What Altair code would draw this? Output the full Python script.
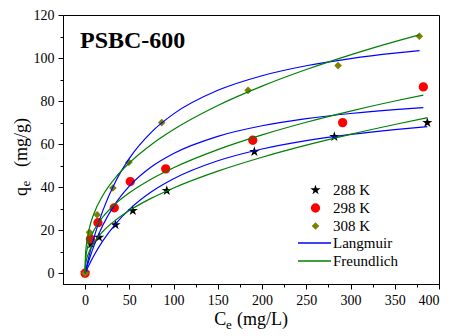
import altair as alt
import pandas as pd

# ---- measured data points ----
series_names = ["288 K", "298 K", "308 K"]
C288 = [0, 6.8, 15.8, 34.3, 53.9, 92.3, 191.3, 281.7, 386.8]
q288 = [0, 13.5, 16.7, 22.5, 29.1, 38.4, 56.5, 63.5, 70.0]
C298 = [0, 6.0, 14.5, 33.0, 51.0, 91.1, 189.5, 291.1, 382.3]
q298 = [0, 15.9, 23.5, 30.4, 42.6, 48.5, 61.8, 70.0, 86.6]
C308 = [0, 4.9, 13.6, 31.4, 49.5, 86.6, 184.2, 285.9, 377.8]
q308 = [0, 19.0, 27.2, 39.6, 51.6, 70.0, 85.0, 96.5, 110.1]

# ---- fitted curves ----
Cfit_base = [0, 0.3, 1, 2, 5, 10, 20, 35, 50, 75, 100, 150, 200, 250, 300, 350]
Cfit_308 = Cfit_base + [378]
Cfit_298 = Cfit_base + [382.3]
Cfit_288 = Cfit_base + [386.8]
L308 = [0, 0.57, 1.89, 3.71, 8.88, 16.53, 29.08, 43.11, 53.41, 65.60, 74.05, 85.00, 91.79, 96.41, 99.75, 102.29, 103.45]
F308 = [0, 7.30, 11.55, 15.04, 21.33, 27.77, 36.16, 44.76, 51.27, 59.84, 66.77, 77.94, 86.95, 94.66, 101.47, 107.61, 110.8]
L298 = [0, 0.44, 1.46, 2.87, 6.85, 12.72, 22.26, 32.80, 40.47, 49.47, 55.66, 63.62, 68.52, 71.84, 74.24, 76.05, 77.0]
F298 = [0, 5.06, 8.10, 10.62, 15.20, 19.93, 26.13, 32.52, 37.39, 43.82, 49.03, 57.45, 64.29, 70.16, 75.34, 80.02, 82.8]
L288 = [0, 0.27, 0.91, 1.79, 4.34, 8.26, 15.04, 23.22, 29.67, 37.85, 43.90, 52.25, 57.75, 61.64, 64.53, 66.78, 68.13]
F288 = [0, 3.01, 5.13, 6.98, 10.48, 14.26, 19.40, 24.87, 29.14, 34.89, 39.64, 47.46, 53.92, 59.54, 64.56, 69.13, 72.3]

x_ticks = list(range(0, 401, 25))
y_ticks = list(range(0, 121, 10))

FONT = "Liberation Serif"
STAR = ("M0,-1 L0.2245,-0.309 L0.951,-0.309 L0.363,0.118 L0.588,0.809 L0,0.382 "
        "L-0.588,0.809 L-0.363,0.118 L-0.951,-0.309 L-0.2245,-0.309 Z")

pts = pd.concat([
    pd.DataFrame({"C": C288, "q": q288, "series": series_names[0]}),
    pd.DataFrame({"C": C298, "q": q298, "series": series_names[1]}),
    pd.DataFrame({"C": C308, "q": q308, "series": series_names[2]}),
])

curves = pd.concat([
    pd.DataFrame({"C": Cfit_288, "q": L288, "model": "Langmuir", "curve": "L288"}),
    pd.DataFrame({"C": Cfit_298, "q": L298, "model": "Langmuir", "curve": "L298"}),
    pd.DataFrame({"C": Cfit_308, "q": L308, "model": "Langmuir", "curve": "L308"}),
    pd.DataFrame({"C": Cfit_288, "q": F288, "model": "Freundlich", "curve": "F288"}),
    pd.DataFrame({"C": Cfit_298, "q": F298, "model": "Freundlich", "curve": "F298"}),
    pd.DataFrame({"C": Cfit_308, "q": F308, "model": "Freundlich", "curve": "F308"}),
])

xscale = alt.Scale(domain=[-25, 400], nice=False, zero=False)
yscale = alt.Scale(domain=[-5, 120], nice=False, zero=False)

xaxis = alt.Axis(values=x_ticks, title=None, grid=False,
                 labelExpr="datum.value % 50 === 0 ? datum.label : ''",
                 tickSize={"condition": {"test": "datum.value % 50 === 0", "value": 5}, "value": 3},
                 labelPadding=4)
yaxis = alt.Axis(values=y_ticks, title=None, grid=False,
                 labelExpr="datum.value % 20 === 0 ? datum.label : ''",
                 tickSize={"condition": {"test": "datum.value % 20 === 0", "value": 5}, "value": 3},
                 labelPadding=4)

pt_legend = alt.Legend(orient="none", legendX=245, legendY=167, padding=0,
                       labelOffset=10, rowPadding=2, clipHeight=16,
                       labelFont=FONT, labelFontSize=15, labelColor="black")

points = alt.Chart(pts).mark_point(filled=True, opacity=1).encode(
    x=alt.X("C:Q", scale=xscale, axis=xaxis),
    y=alt.Y("q:Q", scale=yscale, axis=yaxis),
    color=alt.Color("series:N", title=None,
                    scale=alt.Scale(domain=series_names, range=["#000000", "#ff0000", "#808000"]),
                    legend=pt_legend),
    shape=alt.Shape("series:N", title=None,
                    scale=alt.Scale(domain=series_names, range=[STAR, "circle", "diamond"]),
                    legend=pt_legend),
    size=alt.Size("series:N", title=None,
                  scale=alt.Scale(domain=series_names, range=[115, 58, 135]),
                  legend=pt_legend),
)

lines = alt.Chart(curves).mark_line(strokeWidth=1.2, interpolate="monotone").encode(
    x=alt.X("C:Q", scale=xscale, axis=xaxis),
    y=alt.Y("q:Q", scale=yscale, axis=yaxis),
    detail="curve:N",
    stroke=alt.Stroke("model:N", title=None,
                      scale=alt.Scale(domain=["Langmuir", "Freundlich"], range=["#0000ff", "#008000"]),
                      legend=alt.Legend(orient="none", legendX=234, legendY=220.5, padding=0,
                                        labelOffset=1, rowPadding=2, clipHeight=15,
                                        symbolType="stroke", symbolSize=1089, symbolStrokeWidth=1.3,
                                        labelFont=FONT, labelFontSize=15, labelColor="black")),
)

def txt(s, x, y, size, weight="normal", angle=0):
    return alt.Chart(pd.DataFrame({"t": [s]})).mark_text(
        font=FONT, fontSize=size, fontWeight=weight, align="left",
        baseline="alphabetic", angle=angle, color="black"
    ).encode(text="t:N", x=alt.value(x), y=alt.value(y))

title = txt("PSBC-600", 17, 33.3, 24, weight="bold")
xt1 = txt("C", 151.3, 310, 18)
xt2 = txt("e", 163, 313.5, 13)
xt3 = txt("(mg/L)", 174, 310, 18)
yt1 = txt("q", -36.5, 181, 18, angle=270)
yt2 = txt("e", -33, 171.5, 13, angle=270)
yt3 = txt("(mg/g)", -36.5, 152, 18, angle=270)

chart = alt.layer(points, lines, title, xt1, xt2, xt3, yt1, yt2, yt3).properties(
    width=376, height=269,
    autosize=alt.AutoSizeParams(type="none"),
    padding={"left": 55, "top": 7, "right": 7, "bottom": 52},
).configure_view(stroke="black", strokeWidth=1).configure_axis(
    domainColor="black", tickColor="black", labelColor="black",
    labelFont=FONT, labelFontSize=14, domainWidth=1, tickWidth=1
)

chart.save("out.html", embed_options={"renderer": "svg", "actions": False})
